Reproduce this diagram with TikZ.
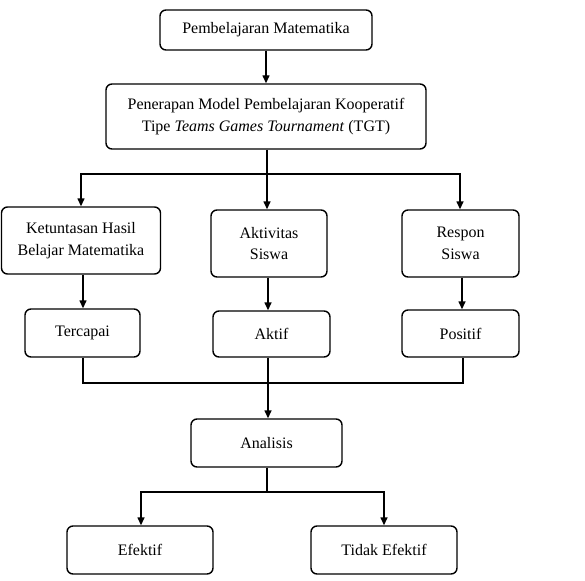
\documentclass[tikz,border=0pt]{standalone}
\usepackage{fontspec}
\setmainfont{Liberation Serif}
\usetikzlibrary{arrows.meta}
\begin{document}
\begin{tikzpicture}[x=1pt,y=-1pt,
  box/.style={draw=black,line width=1.4pt,rounded corners=6pt,align=center,inner sep=0pt,
    font=\fontsize{16}{21.7}\selectfont},
  conn/.style={line width=1.4pt},
  arr/.style={conn,-{Triangle[length=8pt,width=7pt]}}]
\useasboundingbox (0,0) rectangle (585,580);
\node[box,minimum width=212pt,minimum height=40pt] (b1) at (266,30) {Pembelajaran Matematika};
\node[box,minimum width=320pt,minimum height=65pt] (b2) at (266,116.5) {Penerapan Model Pembelajaran Kooperatif\\Tipe \textit{Teams Games Tournament} (TGT)};
\node[box,minimum width=159pt,minimum height=67pt] (k) at (81,240.5) {Ketuntasan Hasil\\Belajar Matematika};
\node[box,minimum width=116pt,minimum height=67pt] (a) at (269,243.5) {Aktivitas\\Siswa};
\node[box,minimum width=117pt,minimum height=67pt] (r) at (460.5,243.5) {Respon\\Siswa};
\node[box,minimum width=115pt,minimum height=48pt] (t) at (82.5,333) {Tercapai};
\node[box,minimum width=117pt,minimum height=46pt] (ak) at (271.5,334) {Aktif};
\node[box,minimum width=117pt,minimum height=47pt] (p) at (460.5,333.5) {Positif};
\node[box,minimum width=151pt,minimum height=48pt] (an) at (266.5,443) {Analisis};
\node[box,minimum width=146pt,minimum height=48pt] (e) at (140,550) {Efektif};
\node[box,minimum width=146pt,minimum height=48pt] (te) at (384,550) {Tidak Efektif};
\coordinate (j1) at (267,174);
\coordinate (j2) at (267,383);
\coordinate (j3) at (267,492);
\draw[arr] (b1.south) -- (b1.south |- b2.north);
\draw[conn] (b2.south -| j1) -- (j1);
\draw[arr] (j1) -| (k.north -| 81,0);
\draw[arr] (j1) -- (j1 |- a.north);
\draw[arr] (j1) -| (r.north -| 460,0);
\draw[arr] (83,0 |- k.south) -- (83,0 |- t.north);
\draw[arr] (268,0 |- a.south) -- (268,0 |- ak.north);
\draw[arr] (462,0 |- r.south) -- (462,0 |- p.north);
\draw[conn] (83,0 |- t.south) |- (j2) -| (463,0 |- p.south);
\draw[arr] (268,0 |- ak.south) -- (268,0 |- an.north);
\draw[conn] (an.south -| j3) -- (j3);
\draw[arr] (j3) -| (e.north -| 141,0);
\draw[arr] (j3) -| (te.north -| 384,0);
\end{tikzpicture}
\end{document}
